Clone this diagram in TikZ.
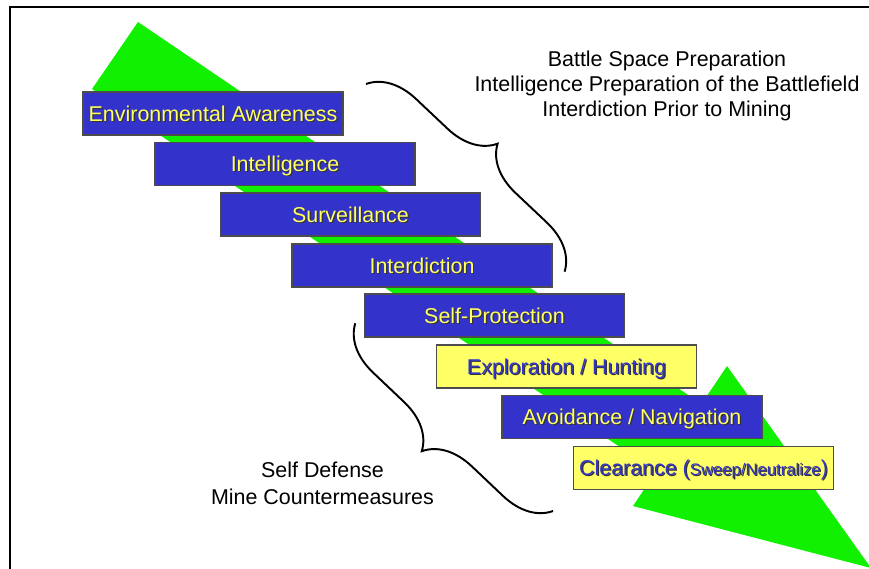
\documentclass[tikz,border=0pt]{standalone}
\usepackage{fontspec}
\setmainfont{Liberation Sans}
\usetikzlibrary{decorations.pathreplacing}

\definecolor{boxblue}{RGB}{51,51,204}
\definecolor{boxyellow}{RGB}{255,255,102}
\definecolor{arrowgreen}{RGB}{16,240,0}

\newcommand{\shadowtext}[2]{\makebox[0pt][l]{\hspace{0.35pt}\raisebox{-0.35pt}{\color{black!80}#2}}\textcolor{#1}{#2}}

\begin{document}
\begin{tikzpicture}[
    font=\fontsize{6.1pt}{7.2pt}\selectfont,
    bluebox/.style={draw=black!70, line width=0.3pt, fill=boxblue, minimum width=2.6cm, minimum height=0.43cm, inner sep=0pt, text height=4.37pt, text depth=0pt},
    yellowbox/.style={bluebox, fill=boxyellow},
    bracket/.style={draw, line width=0.55pt, decorate, decoration={brace, amplitude=0.47cm}},
    note/.style={align=center, text=black}]

    \useasboundingbox (0,0) rectangle (8.69,-5.68);
    \clip (0,0) rectangle (8.69,-5.68);

    % frame
    \path [draw, line width=0.6pt] (0.103,-5.7) -- (0.103,-0.07) -- (8.7,-0.07);

    % green arrow
    \path [fill=arrowgreen] (1.38,-0.22) -- (7.015,-4.04) -- (7.27,-3.66) -- (8.71,-5.68)
        -- (6.33,-5.06) -- (6.56,-4.715) -- (0.92,-0.89) -- cycle;

    \node [bluebox] at (2.13,-1.135) (envbox) {\shadowtext{boxyellow}{Environmental Awareness}};
    \node [bluebox] at (2.85,-1.64) (intelbox) {\shadowtext{boxyellow}{Intelligence}};
    \node [bluebox] at (3.505,-2.145) (survbox) {\shadowtext{boxyellow}{Surveillance}};
    \node [bluebox] at (4.22,-2.655) (interdictbox) {\shadowtext{boxyellow}{Interdiction}};
    \node [bluebox] at (4.945,-3.155) (selfprotbox) {\shadowtext{boxyellow}{Self-Protection}};
    \node [yellowbox] at (5.665,-3.665) (explorebox) {\shadowtext{boxblue}{Exploration / Hunting}};
    \node [bluebox] at (6.32,-4.17) (avoidbox) {\shadowtext{boxyellow}{Avoidance / Navigation}};
    \node [yellowbox] at (7.035,-4.68) (clearbox) {\shadowtext{boxblue}{Clearance (\fontsize{4.75pt}{5pt}\selectfont Sweep/Neutralize\fontsize{6.1pt}{7.2pt}\selectfont)}};

    % braces
    \coordinate (prepTop) at (3.66,-0.84);
    \coordinate (prepBottom) at (5.65,-2.72);
    \coordinate (defTop) at (3.55,-3.23);
    \coordinate (defBottom) at (5.53,-5.11);

    \path [bracket] (prepTop) -- (prepBottom);
    \path [bracket] (defBottom) -- (defTop);

    \node [note, font=\fontsize{6.1pt}{7.1pt}\selectfont] at (6.67,-0.855) (prepnote) {Battle Space Preparation\\Intelligence Preparation of the Battlefield\\Interdiction Prior to Mining};
    \node [note, font=\fontsize{6.1pt}{7.65pt}\selectfont] at (3.225,-4.835) (defnote) {Self Defense\\Mine Countermeasures};

\end{tikzpicture}
\end{document}
